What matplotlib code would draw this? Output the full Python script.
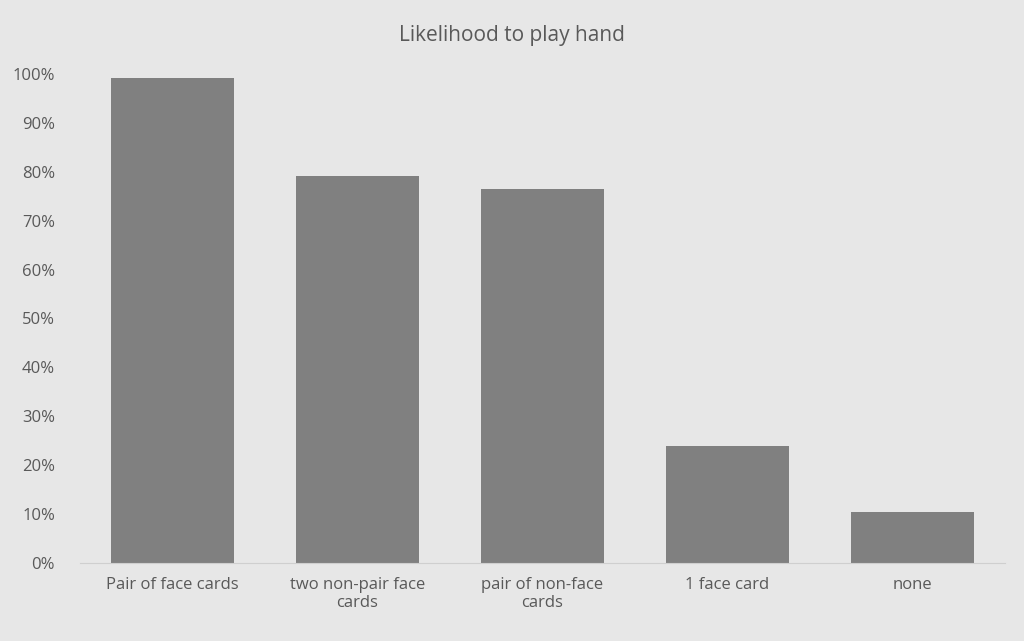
import matplotlib
matplotlib.use("Agg")
import matplotlib.pyplot as plt
from matplotlib.ticker import PercentFormatter

categories = ["Pair of face cards", "two non-pair face\ncards", "pair of non-face\ncards", "1 face card", "none"]
values = [0.992, 0.791, 0.765, 0.239, 0.104]
yticks = [i / 10 for i in range(11)]

plt.rcParams['font.family'] = ['Open Sans', 'DejaVu Sans']
bg = "#e7e7e7"
tc = "#595959"
fig = plt.figure(figsize=(10.24, 6.41), dpi=100, facecolor=bg)
ax = fig.add_axes([80/1024, (641-563)/641, 925/1024, (563-74)/641], facecolor=bg)
x = range(len(categories))
ax.bar(x, values, width=0.67, color="#808080")
ax.set_xlim(-0.5, len(categories) - 0.5)
ax.set_ylim(0, 1)
ax.set_yticks(yticks)
ax.yaxis.set_major_formatter(PercentFormatter(1.0, decimals=0))
ax.set_xticks(list(x))
ax.set_xticklabels(categories)
for s in ["top", "right", "left"]:
    ax.spines[s].set_visible(False)
ax.spines["bottom"].set_color("#cfcfcf")
ax.tick_params(axis="both", length=0, colors=tc, labelsize=12)
ax.tick_params(axis="y", pad=18)
ax.tick_params(axis="x", pad=10)
fig.text(0.5, 1 - 35/641, "Likelihood to play hand", ha="center", va="center", fontsize=15, color=tc)
fig.savefig("out.png", dpi=100, facecolor=bg)
